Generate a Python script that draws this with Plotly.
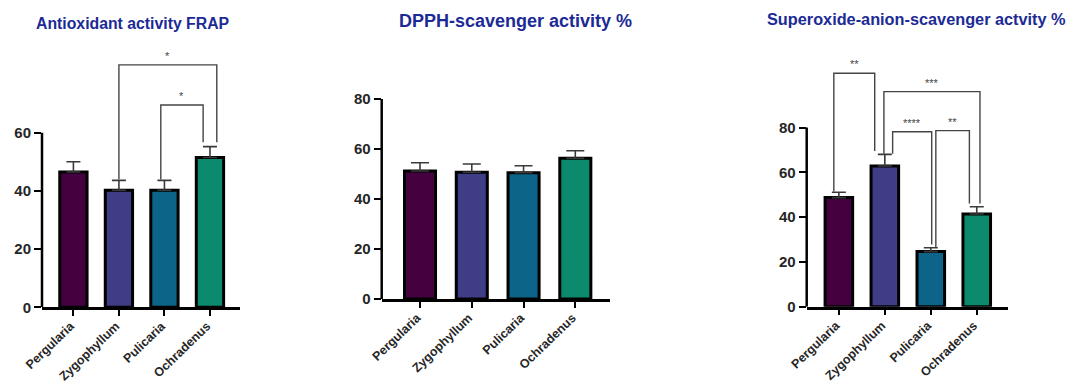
import plotly.graph_objects as go

# ---------------- data ----------------
categories = ["Pergularia", "Zygophyllum", "Pulicaria", "Ochradenus"]
colors = ["#45003f", "#3e3d85", "#0c6488", "#0b8a6e"]

frap_mean = [46.5, 40.2, 40.2, 51.5]
frap_err = [3.5, 3.4, 3.4, 3.7]

dpph_mean = [51.2, 50.7, 50.5, 56.3]
dpph_err = [3.3, 3.3, 2.8, 3.0]

sox_mean = [48.7, 62.8, 24.6, 41.4]
sox_err = [2.4, 5.2, 1.7, 3.2]

titles = ["Antioxidant activity FRAP", "DPPH-scavenger activity %",
          "Superoxide-anion-scavenger actvity %"]
ytick_vals = [[0, 20, 40, 60], [0, 20, 40, 60, 80], [0, 20, 40, 60, 80]]

# significance brackets: (left idx, right idx, left offset, right offset, top, label)
frap_brackets = [(1, 3, 0.0, 0.15, 83.3, "*"), (2, 3, -0.08, -0.15, 69.5, "*")]
sox_brackets = [(0, 1, -0.11, -0.22, 104.2, "**"), (1, 3, -0.02, 0.07, 96.0, "***"),
                (1, 2, 0.17, 0.02, 78.1, "****"), (2, 3, 0.11, -0.16, 78.6, "**")]

# ---------------- layout geometry ----------------
W, H = 1068, 385
panels = [
    dict(mean=frap_mean, err=frap_err, xpx=(42, 240), zero=307.3, ppu=2.91, ymax=90,
         xr=[-0.69, 3.66], axtop=60, cap=7, br=frap_brackets, tx=132.5, ty=23, tsize=15.8),
    dict(mean=dpph_mean, err=dpph_err, xpx=(381.7, 610), zero=299, ppu=2.5, ymax=84,
         xr=[-0.74, 3.67], axtop=80, cap=9, br=[], tx=515, ty=20.7, tsize=18),
    dict(mean=sox_mean, err=sox_err, xpx=(806.7, 1008), zero=306.7, ppu=2.24, ymax=115,
         xr=[-0.70, 3.68], axtop=80, cap=7, br=sox_brackets, tx=916.5, ty=19.3, tsize=16.3),
]

FONT = "Liberation Sans, Arial, sans-serif"
fig = go.Figure()
shapes = []
annotations = []

for i, p in enumerate(panels):
    n = "" if i == 0 else str(i + 1)
    xa, ya = "x" + n, "y" + n
    fig.add_trace(go.Bar(
        x=list(range(len(categories))), y=p["mean"], width=0.6,
        marker=dict(color=colors, line=dict(color="black", width=3)),
        error_y=dict(type="data", array=p["err"], arrayminus=[0] * len(p["err"]),
                     symmetric=False, color="#3a3a3a", thickness=1.6, width=p["cap"]),
        xaxis=xa, yaxis=ya, showlegend=False, hoverinfo="skip"))

    top_px = p["zero"] - p["ymax"] * p["ppu"]
    xdom = [p["xpx"][0] / W, p["xpx"][1] / W]
    ydom = [1 - p["zero"] / H, 1 - top_px / H]
    axis_x = dict(domain=xdom, range=p["xr"], anchor=ya, showgrid=False, zeroline=False,
                  automargin=False,
                  showline=True, linecolor="black", linewidth=2.5,
                  ticks="outside", ticklen=6, tickwidth=2, tickcolor="black",
                  tickvals=list(range(len(categories))), ticktext=categories,
                  tickangle=-44, ticklabelshift=-3, ticklabelstandoff=-2,
                  tickfont=dict(family=FONT, size=12.5, color="#262626", weight="bold"))
    axis_y = dict(domain=ydom, range=[0, p["ymax"]], anchor=xa, showgrid=False,
                  automargin=False,
                  zeroline=False, showline=False, ticks="outside", ticklen=7,
                  tickwidth=2, tickcolor="black", tickvals=ytick_vals[i],
                  tickfont=dict(family=FONT, size=15, color="#262626", weight="bold"))
    fig.layout["xaxis" + n] = axis_x
    fig.layout["yaxis" + n] = axis_y

    # y-axis line only up to the top tick
    shapes.append(dict(type="line", xref=xa + " domain", yref=ya, x0=0, x1=0,
                       y0=0, y1=p["axtop"], line=dict(color="black", width=2.5)))

    # brackets
    for (li, ri, lo, ro, top, lab) in p["br"]:
        xl, xr_ = li + lo, ri + ro
        yl = p["mean"][li] + p["err"][li] + 0.3
        yr = p["mean"][ri] + p["err"][ri] + 1.5
        fig.add_trace(go.Scatter(
            x=[xl, xl, xr_, xr_], y=[yl, top, top, yr], mode="lines",
            line=dict(color="#444444", width=1.4), xaxis=xa, yaxis=ya,
            showlegend=False, hoverinfo="skip", cliponaxis=False))
        annotations.append(dict(x=(xl + xr_) / 2, y=top, xref=xa, yref=ya,
                                text=lab, showarrow=False, yshift=9,
                                font=dict(family=FONT, size=11, color="#444444")))

    annotations.append(dict(x=p["tx"] / W, y=1 - p["ty"] / H, xref="paper", yref="paper",
                            text=titles[i], showarrow=False, xanchor="center",
                            yanchor="middle",
                            font=dict(family=FONT, size=p["tsize"], color="#1c2a96",
                                      weight="bold")))

fig.update_layout(width=W, height=H, margin=dict(l=0, r=0, t=0, b=0),
                  paper_bgcolor="white", plot_bgcolor="white",
                  shapes=shapes, annotations=annotations, bargap=0.4)
fig.write_html("out.html")
